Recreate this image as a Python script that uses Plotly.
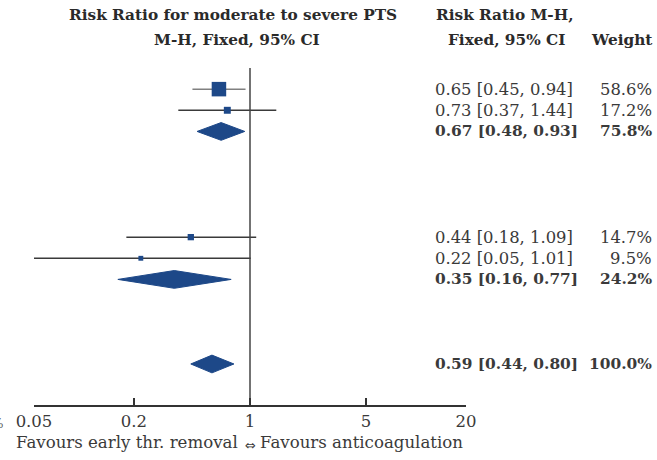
import plotly.graph_objects as go
import math

# ---- data ----
row_pos = [0, 1, 2, 7, 8, 9, 13]
est = [0.65, 0.73, 0.67, 0.44, 0.22, 0.35, 0.59]
lo = [0.45, 0.37, 0.48, 0.18, 0.05, 0.16, 0.44]
hi = [0.94, 1.44, 0.93, 1.09, 1.01, 0.77, 0.80]
weight = [58.6, 17.2, 75.8, 14.7, 9.5, 24.2, 100.0]
is_summary = [False, False, True, False, False, True, True]
tick_vals = [0.05, 0.2, 1, 5, 20]
tick_text = ["0.05", "0.2", "1", "5", "20"]

FONT = "DejaVu Serif"
BLUE = "#1d4888"
TXT = "#3a3a3a"

Y_MAX = 14.94

fig = go.Figure()

# CI lines for studies
for i, r in enumerate(row_pos):
    if is_summary[i]:
        continue
    fig.add_trace(go.Scatter(x=[lo[i], hi[i]], y=[r, r], mode="lines",
                             line=dict(color="#808080" if i == 0 else "#3a3a3a", width=1.5),
                             hoverinfo="skip", showlegend=False))

# study squares
sx = [est[i] for i in range(len(est)) if not is_summary[i]]
sy = [row_pos[i] for i in range(len(est)) if not is_summary[i]]
ss = [14.5 * (weight[i] / 58.6) ** 0.6 for i in range(len(est)) if not is_summary[i]]
fig.add_trace(go.Scatter(x=sx, y=sy, mode="markers",
                         marker=dict(symbol="square", size=ss, color=BLUE, opacity=1, line=dict(width=0)),
                         showlegend=False))

# summary diamonds
h = 0.42
for i, r in enumerate(row_pos):
    if not is_summary[i]:
        continue
    fig.add_trace(go.Scatter(x=[lo[i], est[i], hi[i], est[i], lo[i]],
                             y=[r, r - h, r, r + h, r], mode="lines", fill="toself",
                             fillcolor=BLUE, line=dict(color=BLUE, width=1),
                             hoverinfo="skip", showlegend=False))

# reference line at 1
fig.add_trace(go.Scatter(x=[1, 1], y=[-1, Y_MAX], mode="lines",
                         line=dict(color="#444444", width=1.5), hoverinfo="skip", showlegend=False))

L, R_PIX, TOP, BOT = 34, 466, 68, 405
W = R_PIX - L
H = BOT - TOP

def px(p):
    return (p - L) / W

def py(p):
    return (BOT - p) / H

ann = []
for i, r in enumerate(row_pos):
    ci = f"{est[i]:.2f} [{lo[i]:.2f}, {hi[i]:.2f}]"
    wt = f"{weight[i]:.1f}%"
    fs = 16.4
    if is_summary[i]:
        ci = "<b>" + ci + "</b>"
        wt = "<b>" + wt + "</b>"
        fs = 15.4
    ann.append(dict(x=px(433), y=r, xref="paper", yref="y", text=ci, showarrow=False,
                    xanchor="left", yanchor="middle", font=dict(family=FONT, size=fs, color=TXT)))
    ann.append(dict(x=px(654), y=r, xref="paper", yref="y", text=wt, showarrow=False,
                    xanchor="right", yanchor="middle", font=dict(family=FONT, size=fs, color=TXT)))

hdr = dict(family=FONT, size=15.3, color="#2a2a2a")
ann += [
    dict(x=px(233), y=py(15), xref="paper", yref="paper", text="<b>Risk Ratio for moderate to severe PTS</b>",
         showarrow=False, xanchor="center", yanchor="middle", font=hdr),
    dict(x=px(237), y=py(40), xref="paper", yref="paper", text="<b>M-H, Fixed, 95% CI</b>",
         showarrow=False, xanchor="center", yanchor="middle", font=hdr),
    dict(x=px(505), y=py(15), xref="paper", yref="paper", text="<b>Risk Ratio M-H,</b>",
         showarrow=False, xanchor="center", yanchor="middle", font=hdr),
    dict(x=px(506), y=py(40), xref="paper", yref="paper", text="<b>Fixed, 95% CI</b>",
         showarrow=False, xanchor="center", yanchor="middle", font=hdr),
    dict(x=px(654), y=py(40), xref="paper", yref="paper", text="<b>Weight</b>",
         showarrow=False, xanchor="right", yanchor="middle", font=hdr),
    dict(x=px(240), y=py(443), xref="paper", yref="paper", text="Favours early thr. removal",
         showarrow=False, xanchor="right", yanchor="middle", font=dict(family=FONT, size=16.6, color=TXT)),
    dict(x=px(250), y=py(445), xref="paper", yref="paper", text="⇔",
         showarrow=False, xanchor="center", yanchor="middle", font=dict(family="DejaVu Sans", size=13, color=TXT)),
    dict(x=px(258), y=py(443), xref="paper", yref="paper", text="Favours anticoagulation",
         showarrow=False, xanchor="left", yanchor="middle", font=dict(family=FONT, size=16.6, color=TXT)),
    dict(x=px(5), y=py(424), xref="paper", yref="paper", text="%",
         showarrow=False, xanchor="right", yanchor="middle", font=dict(family=FONT, size=12, color="#555555")),
]

fig.update_layout(
    width=657, height=460,
    margin=dict(l=L, r=657 - R_PIX, t=TOP, b=460 - BOT, pad=0),
    paper_bgcolor="white", plot_bgcolor="white",
    showlegend=False,
    annotations=ann,
    xaxis=dict(type="log", range=[math.log10(0.05), math.log10(20)],
               tickvals=tick_vals, ticktext=tick_text, ticks="inside", ticklen=7,
               tickwidth=1.5, tickcolor="#333333", showline=True, linecolor="#333333",
               linewidth=1.5, showgrid=False, zeroline=False,
               tickfont=dict(family=FONT, size=16.5, color=TXT)),
    yaxis=dict(range=[Y_MAX, -1], visible=False, showgrid=False, zeroline=False),
)

fig.write_html("out.html", config={"displayModeBar": False},
               post_script="document.body.style.margin='0';document.body.style.overflow='hidden';")
